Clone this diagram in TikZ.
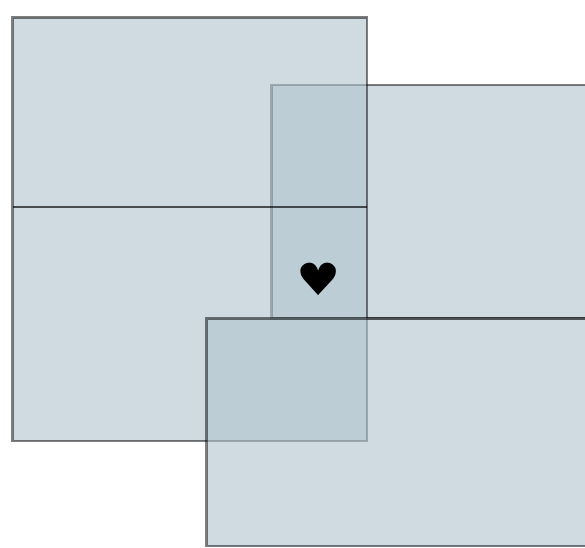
\documentclass[tikz,border=0pt]{standalone}
\usepackage{fontspec}
\newfontfamily\symfont{DejaVu Sans}
\definecolor{panelblue}{HTML}{AFC3CD}

\begin{document}
\begin{tikzpicture}[x=0.75pt, y=-0.75pt,
    panel/.style={fill=panelblue, fill opacity=0.6, draw=black, draw opacity=0.5, line width=2pt},
    divider/.style={draw=black, draw opacity=0.65, line width=1.7pt}]
    \useasboundingbox (0, 0) rectangle (585, 548);
    \clip (0, 0) rectangle (585, 548);

    % Paineis
    \draw[panel] (271.5, 85) rectangle (600, 318.5);
    \draw[panel] (12.5, 17.5) rectangle (367, 441);
    \draw[divider] (12.5, 207) -- (367, 207);
    \draw[panel] (206.5, 318.5) rectangle (600, 546);

    % Coracao
    \node[inner sep=0pt, yscale=0.9, font=\symfont\fontsize{37}{37}\selectfont] (heart) at (319, 279) {♥};
\end{tikzpicture}
\end{document}
